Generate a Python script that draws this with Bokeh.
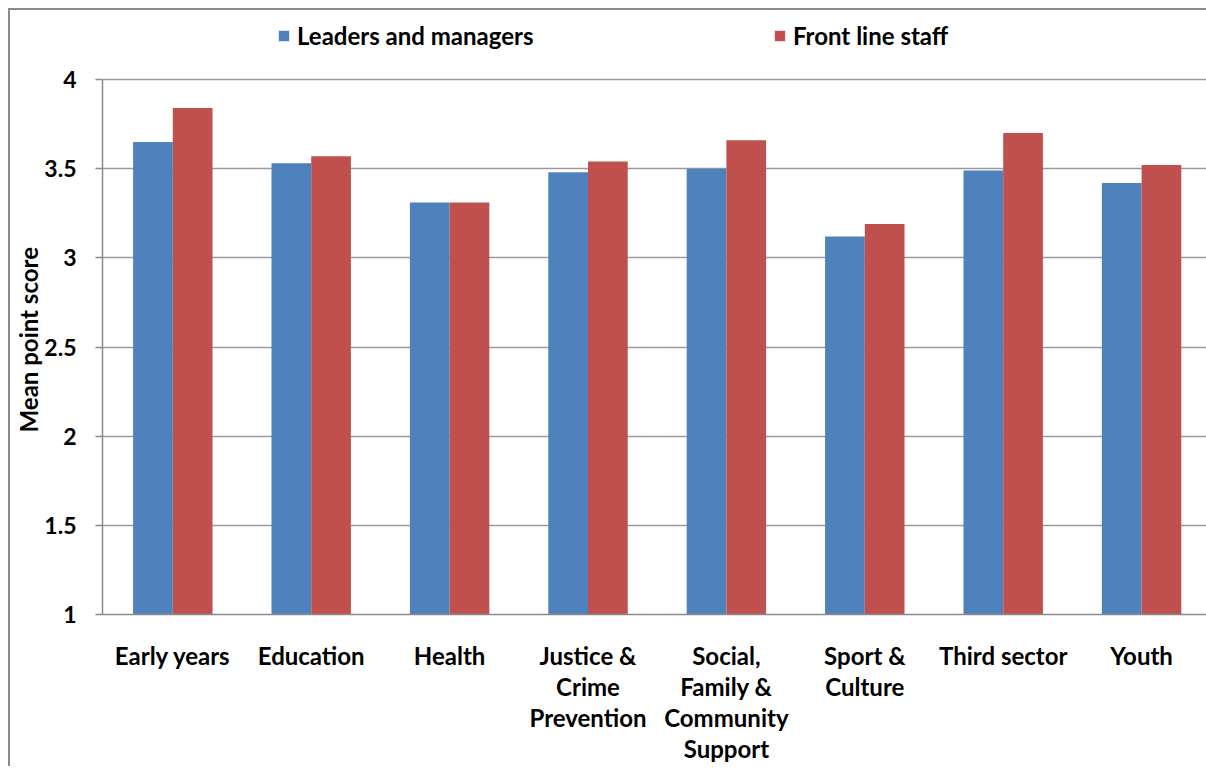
from bokeh.plotting import figure
from bokeh.models import (Range1d, FixedTicker, NumeralTickFormatter, Legend, LegendItem,
                          ColumnDataSource)
from bokeh.embed import file_html
from bokeh.resources import INLINE

categories = ["Early years", "Education", "Health", "Justice &\nCrime\nPrevention",
              "Social,\nFamily &\nCommunity\nSupport", "Sport &\nCulture", "Third sector", "Youth"]
leaders = [3.65, 3.53, 3.31, 3.48, 3.50, 3.12, 3.49, 3.42]
frontline = [3.84, 3.57, 3.31, 3.54, 3.66, 3.19, 3.70, 3.52]
series_names = ["Leaders and managers", "Front line staff"]
y_title = "Mean point score"
y_ticks = [1, 1.5, 2, 2.5, 3, 3.5, 4]

BLUE = "#4F81BD"
RED = "#C0504D"
FONT = "Lato"

xs = list(range(len(categories)))
bw = 0.287
src = ColumnDataSource(dict(
    xb=[x - bw / 2 for x in xs],
    xr=[x + bw / 2 for x in xs],
    lead=leaders,
    front=frontline,
))

# frame spans page y 12..614 ; value 4 sits at page y 79
y_top = 4 + (79 - 12) / 178.33

p = figure(frame_width=1104, frame_height=602,
           x_range=Range1d(-0.508, 7.469), y_range=Range1d(1, y_top),
           output_backend="svg", toolbar_location=None,
           min_border_left=92, min_border_top=2, min_border_right=0, min_border_bottom=148)
p.styles = {"border-left": "2px solid #8a8a8a", "border-top": "2px solid #8a8a8a",
            "border-right": "0px none", "border-bottom": "0px none",
            "outline": "none", "box-shadow": "none",
            "margin-left": "8px", "margin-top": "8px"}
p.outline_line_color = None
p.background_fill_color = "white"
p.border_fill_color = "white"

rb = p.vbar(x="xb", top="lead", bottom=1, width=bw, source=src, fill_color=BLUE, line_color=None)
rr = p.vbar(x="xr", top="front", bottom=1, width=bw, source=src, fill_color=RED, line_color=None)

# y axis
p.yaxis.bounds = (1, 4)
p.yaxis.ticker = FixedTicker(ticks=y_ticks)
p.yaxis.formatter = NumeralTickFormatter(format="0.[0]")
p.yaxis.axis_line_color = "#8a8a8a"
p.yaxis.axis_line_width = 1.5
p.yaxis.major_tick_line_color = "#8a8a8a"
p.yaxis.major_tick_line_width = 1.5
p.yaxis.major_tick_out = 7
p.yaxis.major_tick_in = 0
p.yaxis.minor_tick_line_color = None
p.yaxis.major_label_text_font = FONT
p.yaxis.major_label_text_font_style = "bold"
p.yaxis.major_label_text_font_size = "23px"
p.yaxis.major_label_text_color = "black"
p.yaxis.major_label_standoff = 19
# non-breaking spaces shift the title down to the centre of the 1..4 span
p.yaxis.axis_label = y_title + "\u00a0" * 9
p.yaxis.axis_label_text_font = FONT
p.yaxis.axis_label_text_font_style = "bold"
p.yaxis.axis_label_text_font_size = "24px"
p.yaxis.axis_label_text_color = "black"
p.yaxis.axis_label_standoff = -2

# x axis
p.xaxis.ticker = FixedTicker(ticks=xs)
p.xaxis.major_label_overrides = {i: c for i, c in zip(xs, categories)}
p.xaxis.axis_line_color = "#8a8a8a"
p.xaxis.axis_line_width = 1.5
p.xaxis.major_tick_line_color = None
p.xaxis.minor_tick_line_color = None
p.xaxis.major_label_text_font = FONT
p.xaxis.major_label_text_font_style = "bold"
p.xaxis.major_label_text_font_size = "24px"
p.xaxis.major_label_text_color = "black"
p.xaxis.major_label_text_line_height = 1.08
p.xaxis.major_label_standoff = 20

p.xgrid.grid_line_color = None
p.ygrid.grid_line_color = "#9a9a9a"
p.ygrid.grid_line_width = 1.5

def make_legend(item, loc):
    lg = Legend(items=[item], location=loc, orientation="horizontal",
                glyph_width=13, glyph_height=13, label_standoff=7,
                padding=0, margin=0, border_line_color=None, background_fill_alpha=0,
                label_text_font=FONT, label_text_font_style="bold",
                label_text_font_size="24px", label_text_color="black")
    return lg

p.add_layout(make_legend(LegendItem(label=series_names[0], renderers=[rb]), (175, 564)))
p.add_layout(make_legend(LegendItem(label=series_names[1], renderers=[rr]), (671, 564)))

open("out.html", "w").write(file_html(p, INLINE))
